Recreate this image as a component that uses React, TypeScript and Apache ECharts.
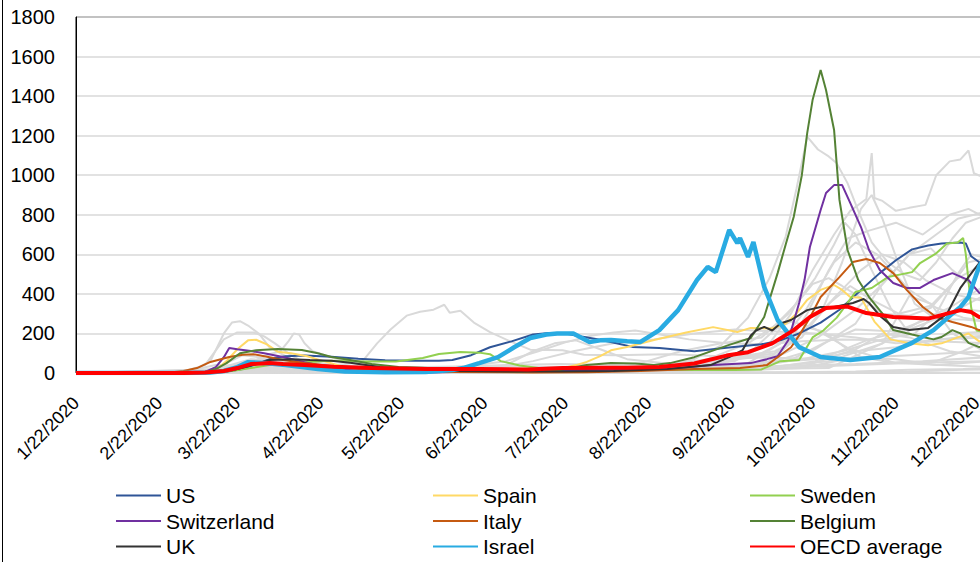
import React, { useEffect, useRef } from "react";
import * as echarts from "echarts";

// x = days since 1/22/2020, y = new cases per million (7-day average)
const START_UTC = Date.UTC(2020, 0, 22);
const tickDays = [0, 31, 60, 91, 121, 152, 182, 213, 244, 274, 305, 335];
const yTicks = { min: 0, max: 1800, interval: 200 };

const us = [[0,0],[40,0],[55,5],[62,20],[68,50],[73,75],[78,85],[85,88],[95,82],[105,72],[115,65],[125,62],[135,62],[140,66],[147,90],[154,130],[162,160],[170,195],[176,202],[182,200],[188,185],[195,168],[201,150],[207,132],[217,126],[230,110],[242,128],[255,145],[262,165],[269,200],[277,255],[284,320],[292,420],[299,505],[305,570],[311,625],[317,645],[322,655],[329,660],[331,655],[333,590],[336,560],[339,565]];
const spain = [[0,0],[40,0],[48,3],[52,15],[56,60],[60,120],[64,165],[67,168],[71,145],[75,108],[80,100],[86,85],[92,60],[100,30],[110,15],[125,8],[140,5],[160,5],[170,8],[180,20],[186,40],[190,56],[195,85],[199,115],[205,131],[215,167],[227,205],[237,232],[246,207],[251,228],[259,225],[264,250],[268,300],[272,370],[277,420],[282,445],[285,420],[288,384],[292,380],[297,260],[303,170],[310,150],[317,140],[322,150],[328,180],[332,200],[336,160],[339,160]];
const sweden = [[0,0],[40,0],[50,3],[58,10],[65,25],[72,40],[80,50],[90,58],[95,62],[107,58],[119,58],[129,76],[135,96],[143,106],[150,103],[154,95],[158,60],[165,38],[172,25],[185,22],[200,20],[215,18],[230,15],[245,15],[255,18],[262,60],[269,66],[274,180],[278,215],[283,280],[290,410],[296,430],[302,485],[311,510],[314,556],[320,605],[324,655],[328,660],[330,683],[331,600],[333,330],[335,215],[339,205]];
const switzerland = [[0,0],[40,0],[48,5],[52,30],[55,80],[57,126],[60,120],[65,111],[70,100],[77,81],[85,55],[95,25],[105,10],[130,3],[160,10],[180,15],[200,15],[220,20],[237,40],[251,50],[257,70],[261,85],[265,167],[269,354],[271,470],[273,637],[277,824],[279,910],[282,950],[285,950],[288,860],[292,738],[295,622],[299,521],[304,455],[309,430],[314,430],[319,470],[326,505],[332,470],[336,405],[339,400]];
const italy = [[0,0],[30,0],[35,2],[40,10],[45,25],[50,56],[57,81],[62,92],[66,95],[72,80],[77,66],[85,50],[95,35],[105,20],[120,8],[140,5],[170,3],[190,4],[210,10],[230,20],[247,25],[257,40],[262,90],[266,130],[269,190],[273,280],[277,384],[284,485],[289,561],[294,576],[299,556],[304,505],[309,420],[315,334],[320,283],[326,258],[333,233],[336,217],[339,215]];
const belgium = [[0,0],[40,0],[48,3],[52,20],[56,50],[61,100],[67,115],[75,121],[84,116],[90,100],[95,81],[102,66],[110,45],[120,30],[131,25],[145,12],[165,8],[180,15],[190,40],[199,50],[208,48],[215,40],[221,50],[230,80],[243,142],[251,177],[256,283],[261,505],[264,650],[267,790],[270,1000],[272,1213],[274,1380],[277,1532],[279,1431],[282,1229],[284,875],[287,622],[291,470],[295,384],[300,300],[304,217],[311,195],[319,170],[322,182],[326,217],[329,200],[332,152],[336,131],[339,130]];
const uk = [[0,0],[40,0],[50,2],[57,10],[63,30],[68,50],[72,66],[80,70],[87,66],[95,62],[102,52],[113,30],[125,12],[140,10],[160,8],[180,8],[200,10],[220,20],[236,40],[243,80],[248,116],[251,190],[253,215],[256,233],[259,215],[262,250],[266,268],[272,318],[277,334],[282,334],[289,354],[293,374],[295,354],[299,290],[304,233],[310,217],[317,228],[324,300],[329,430],[334,521],[336,556],[339,570]];
const israel = [[0,0],[40,0],[50,2],[55,10],[60,30],[64,55],[70,50],[78,40],[90,20],[100,8],[115,4],[130,5],[140,15],[144,25],[150,50],[157,80],[163,130],[169,177],[175,195],[179,200],[185,200],[191,157],[195,165],[199,167],[205,160],[210,157],[217,217],[224,318],[231,470],[235,536],[238,510],[243,723],[246,657],[247,682],[250,587],[252,662],[256,435],[261,268],[266,182],[269,131],[277,81],[288,66],[299,81],[311,152],[319,217],[326,300],[329,334],[332,384],[336,540],[339,600]];
const oecd = [[0,0],[40,0],[48,2],[55,10],[60,25],[65,45],[72,50],[77,45],[85,40],[96,32],[110,25],[130,20],[150,20],[168,18],[181,25],[194,27],[205,27],[217,30],[230,48],[242,88],[250,105],[259,150],[267,217],[273,283],[279,329],[287,336],[294,303],[304,283],[317,275],[324,300],[329,318],[333,308],[336,283],[339,280]];

// other OECD countries (grey)
const czechia = [[0,0],[45,1],[60,20],[70,28],[90,10],[130,5],[170,12],[200,20],[220,35],[230,70],[240,140],[250,280],[258,480],[264,690],[268,930],[272,1195],[276,1130],[280,1095],[283,1060],[287,960],[291,820],[296,660],[302,560],[308,500],[314,470],[320,560],[326,680],[331,760],[339,800]];
const luxembourg = [[0,0],[42,2],[50,60],[55,200],[58,255],[61,262],[64,240],[68,200],[72,130],[80,70],[90,30],[110,8],[150,10],[160,40],[170,110],[178,150],[186,165],[195,120],[205,70],[225,40],[245,60],[258,150],[266,300],[274,520],[282,700],[288,820],[294,880],[296,1112],[297,885],[300,870],[305,820],[310,835],[316,850],[320,1000],[325,1070],[329,1080],[332,1125],[334,1010],[339,980]];
const iceland = [[0,0],[38,0],[48,40],[55,170],[60,205],[66,205],[70,185],[74,150],[80,90],[88,30],[100,5],[180,3],[200,10],[240,40],[252,120],[260,220],[266,260],[274,230],[288,120],[305,50],[339,30]];
const ireland = [[0,0],[50,5],[58,25],[66,60],[72,95],[76,110],[79,160],[81,200],[83,195],[85,150],[88,110],[95,80],[105,45],[120,15],[180,5],[215,20],[240,50],[255,100],[265,170],[272,230],[278,210],[285,140],[292,80],[305,50],[320,60],[330,110],[339,170]];
const chile = [[0,0],[48,0],[60,5],[70,20],[90,30],[100,45],[107,66],[112,150],[117,220],[123,290],[128,310],[133,320],[137,345],[139,305],[143,315],[148,255],[154,207],[162,157],[169,118],[181,115],[189,92],[200,90],[220,95],[250,80],[280,70],[310,90],[339,110]];
const colombia = [[0,0],[70,2],[110,10],[140,25],[160,60],[172,110],[182,155],[192,190],[200,205],[208,215],[215,200],[228,170],[242,150],[256,145],[270,160],[285,170],[300,165],[315,160],[328,180],[339,190]];
const costaRica = [[0,0],[80,5],[150,10],[170,60],[185,110],[200,150],[215,170],[230,200],[245,220],[260,210],[275,200],[290,180],[305,150],[320,160],[339,150]];
const netherlands = [[0,0],[45,2],[58,30],[66,60],[75,72],[85,60],[100,30],[120,12],[160,5],[190,15],[215,30],[235,70],[250,150],[260,240],[268,350],[274,450],[280,480],[285,440],[292,380],[300,300],[310,290],[318,330],[326,450],[332,560],[339,580]];
const france = [[0,0],[45,2],[55,30],[65,60],[74,70],[85,55],[95,30],[110,10],[150,5],[190,15],[210,50],[225,110],[240,150],[255,180],[265,300],[275,480],[282,650],[286,760],[290,700],[296,520],[303,330],[310,200],[318,170],[326,200],[339,210]];
const austria = [[0,0],[48,5],[56,50],[62,90],[68,80],[78,40],[90,15],[110,5],[170,10],[200,15],[220,35],[245,80],[260,110],[270,180],[278,330],[285,560],[292,830],[296,900],[300,780],[306,550],[312,350],[320,270],[330,270],[339,260]];
const slovenia = [[0,0],[55,15],[70,30],[90,10],[120,2],[200,5],[240,20],[255,50],[265,150],[272,300],[280,520],[287,680],[295,720],[305,760],[315,700],[325,800],[332,830],[339,780]];
const portugal = [[0,0],[55,20],[68,60],[78,75],[88,55],[100,30],[130,30],[155,35],[180,30],[200,20],[225,35],[245,70],[260,100],[272,220],[282,380],[292,520],[300,600],[308,560],[316,470],[326,400],[339,360]];
const poland = [[0,0],[70,5],[120,12],[200,15],[235,25],[250,50],[262,150],[272,330],[282,560],[290,660],[298,600],[310,420],[320,330],[330,280],[339,260]];
const denmark = [[0,0],[50,10],[60,30],[80,35],[100,20],[140,5],[190,10],[220,25],[240,70],[255,80],[270,70],[285,110],[300,170],[312,200],[320,300],[328,500],[333,600],[339,580]];
const hungary = [[0,0],[80,5],[200,5],[225,30],[245,70],[262,90],[276,180],[290,320],[300,450],[310,600],[318,630],[326,520],[339,380]];
const lithuania = [[0,0],[80,8],[200,5],[240,15],[260,60],[275,120],[290,250],[300,450],[310,600],[320,700],[328,780],[334,800],[339,820]];
const slovakia = [[0,0],[100,2],[240,10],[258,60],[270,200],[280,350],[288,440],[296,370],[306,300],[318,340],[328,480],[339,560]];
const canada = [[0,0],[50,3],[62,15],[75,40],[90,45],[105,35],[125,25],[145,10],[180,10],[220,12],[240,25],[260,55],[275,70],[290,110],[305,130],[320,170],[339,180]];
const germany = [[0,0],[45,2],[55,30],[65,70],[75,60],[90,30],[110,10],[180,6],[215,15],[250,25],[265,60],[278,150],[290,220],[305,210],[320,290],[332,320],[339,310]];
const norway = [[0,0],[40,5],[52,40],[62,35],[80,15],[110,3],[190,3],[225,10],[250,15],[270,25],[290,80],[305,70],[320,40],[339,60]];
const finland = [[0,0],[55,5],[70,20],[90,15],[120,3],[220,3],[250,15],[270,30],[290,40],[310,50],[339,60]];
const japan = [[0,0],[60,1],[80,4],[100,2],[150,1],[185,5],[195,8],[220,4],[260,3],[290,8],[310,16],[330,20],[339,24]];
const korea = [[0,0],[28,1],[35,8],[42,12],[55,3],[120,1],[200,2],[215,5],[240,2],[290,3],[310,8],[330,16],[339,18]];
const australia = [[0,0],[55,10],[65,15],[80,3],[160,1],[180,10],[195,18],[210,8],[230,2],[339,1]];
const newZealand = [[0,0],[60,5],[70,12],[85,2],[339,0]];
const mexico = [[0,0],[70,1],[100,8],[130,25],[160,40],[180,45],[200,40],[230,30],[260,35],[290,45],[315,60],[339,80]];
const turkey = [[0,0],[60,10],[80,50],[95,30],[130,12],[160,15],[200,15],[250,20],[280,25],[300,150],[310,390],[318,350],[326,200],[339,100]];
const greece = [[0,0],[60,5],[90,3],[200,5],[240,20],[270,30],[290,120],[300,200],[310,180],[325,110],[339,80]];
const estonia = [[0,0],[60,20],[80,15],[120,2],[200,5],[250,20],[280,60],[300,150],[315,270],[325,330],[339,450]];
const latvia = [[0,0],[70,8],[200,2],[250,10],[275,60],[295,170],[310,220],[325,300],[339,400]];

const greyNames = ["Czechia","Luxembourg","Iceland","Ireland","Chile","Colombia","Costa Rica","Netherlands","France","Austria","Slovenia","Portugal","Poland","Denmark","Hungary","Lithuania","Slovakia","Canada","Germany","Norway","Finland","Japan","Korea","Australia","New Zealand","Mexico","Turkey","Greece","Estonia","Latvia"];
const greyData = [czechia,luxembourg,iceland,ireland,chile,colombia,costaRica,netherlands,france,austria,slovenia,portugal,poland,denmark,hungary,lithuania,slovakia,canada,germany,norway,finland,japan,korea,australia,newZealand,mexico,turkey,greece,estonia,latvia];

const mainNames = ["US","Spain","Sweden","Switzerland","Italy","Belgium","UK","Israel","OECD average"];
const mainData = [us,spain,sweden,switzerland,italy,belgium,uk,israel,oecd];
const mainColors = ["#2F5597","#FFD966","#92D050","#7030A0","#C55A11","#548235","#333333","#29ABE2","#FF0000"];
const mainWidths = [2,2,2,2,2,2,2,4.5,4];

const legendCols = [["US","Switzerland","UK"],["Spain","Italy","Israel"],["Sweden","Belgium","OECD average"]];
const legendLefts = [115,432,749];

const FONT = "'Liberation Sans', Arial, sans-serif";

function fmtDay(v: number): string {
  const d = new Date(START_UTC + Math.round(v) * 86400000);
  return `${d.getUTCMonth() + 1}/${d.getUTCDate()}/${d.getUTCFullYear()}`;
}

export default function App() {
  const ref = useRef<HTMLDivElement>(null);
  useEffect(() => {
    if (!ref.current) return;
    const chart = echarts.init(ref.current, null, { renderer: "svg" });
    const series: any[] = [];
    greyNames.forEach((n, i) => {
      series.push({
        name: n, type: "line", data: greyData[i], symbol: "none", showSymbol: false,
        lineStyle: { color: "#D9D9D9", width: 2 }, itemStyle: { color: "#D9D9D9" },
        emphasis: { disabled: true }, silent: true,
      });
    });
    mainNames.forEach((n, i) => {
      series.push({
        name: n, type: "line", data: mainData[i], symbol: "none", showSymbol: false,
        lineStyle: { color: mainColors[i], width: mainWidths[i] }, itemStyle: { color: mainColors[i] },
        emphasis: { disabled: true },
      });
    });
    chart.setOption({
      animation: false,
      backgroundColor: "#fff",
      grid: { left: 76, right: 20, top: 17, bottom: 189, show: true, borderColor: "#000", borderWidth: 1, backgroundColor: "transparent" },
      xAxis: {
        type: "value", min: 0, max: 340,
        axisLine: { show: false }, axisTick: { show: false }, splitLine: { show: false },
        axisLabel: {
          customValues: tickDays, rotate: 45, margin: 27, formatter: (v: number) => fmtDay(v),
          fontSize: 18, color: "#000", fontFamily: FONT,
        },
      },
      yAxis: {
        type: "value", min: yTicks.min, max: yTicks.max, interval: yTicks.interval,
        axisLine: { show: true, lineStyle: { color: "#000", width: 1 } },
        axisTick: { show: false },
        splitLine: { lineStyle: { color: "#D9D9D9", width: 1.5 } },
        axisLabel: { fontSize: 20, color: "#000", fontFamily: FONT, margin: 21, formatter: (v: number) => String(v) },
      },
      legend: legendCols.map((col, i) => ({
        data: col, left: legendLefts[i], top: 485, orient: "vertical", padding: 0, height: 90,
        itemWidth: 45, itemHeight: 14, itemGap: 4.5, selectedMode: false,
        itemStyle: { opacity: 0, borderWidth: 0 },
        textStyle: { fontSize: 21, color: "#000", fontFamily: FONT, lineHeight: 21 },
      })),
      graphic: [
        { type: "line", shape: { x1: 2.5, y1: 0, x2: 2.5, y2: 562 }, style: { stroke: "#000", lineWidth: 1 }, silent: true },
      ],
      series,
    });
    return () => chart.dispose();
  }, []);
  return (
    <div style={{ position: "fixed", left: 0, top: 0, width: 980, height: 562, overflow: "hidden", background: "#fff" }}>
      <div ref={ref} style={{ width: 1010, height: 562 }} />
    </div>
  );
}
